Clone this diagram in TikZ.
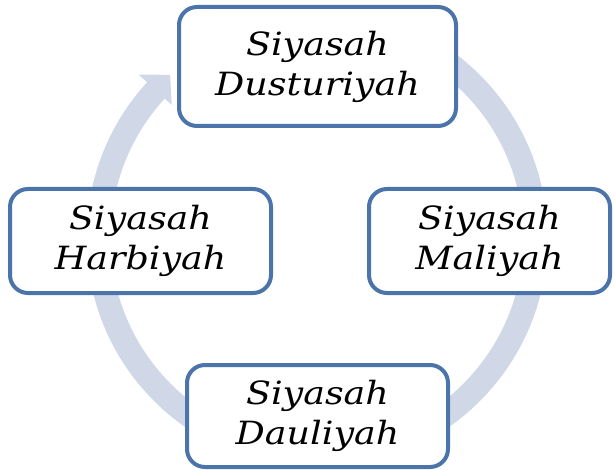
\documentclass[tikz,border=0pt]{standalone}
\usepackage{fontspec}
\setmainfont{DejaVu Serif}[FakeStretch=1.14]
\definecolor{boxblue}{HTML}{4A74AA}
\definecolor{ringgray}{HTML}{D0D8E8}
\tikzset{
  cyclebox/.style={draw=boxblue, line width=4pt, fill=white, rounded corners=18pt,
    align=center, inner sep=0pt, font=\itshape\fontsize{32}{40}\selectfont},
}
\begin{document}
\begin{tikzpicture}[x=1pt,y=1pt]
\useasboundingbox (0,0) rectangle (615,469);
% circular arrow
\begin{scope}[shift={(317,231)}]
\fill[ringgray] (95:230.5) arc[start angle=95, end angle=-222.5, radius=230.5]
  -- (137.5:242) -- (132:219.5) -- (137.5:197) -- (-222.5:206.5)
  arc[start angle=-222.5, end angle=95, radius=206.5] -- cycle;
\end{scope}
\node[cyclebox, minimum width=277pt, minimum height=119pt] (dust) at (317.5,402.5) {Siyasah\\Dusturiyah};
\node[cyclebox, minimum width=241pt, minimum height=104pt] (mali) at (489.5,228) {Siyasah\\Maliyah};
\node[cyclebox, minimum width=261pt, minimum height=102pt] (dauli) at (317.5,53) {Siyasah\\Dauliyah};
\node[cyclebox, minimum width=261pt, minimum height=104pt] (harbi) at (140.5,228) {Siyasah\\Harbiyah};
\end{tikzpicture}
\end{document}
